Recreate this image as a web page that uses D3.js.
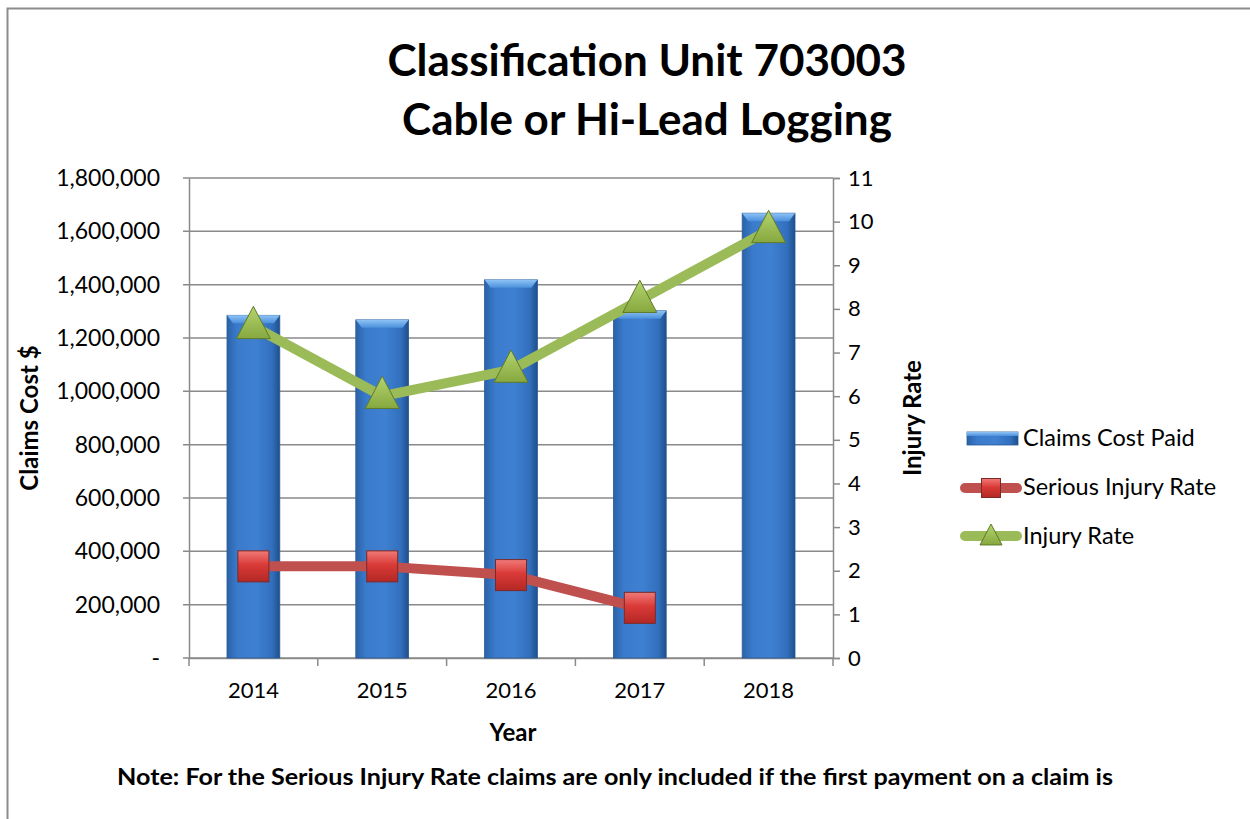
<!DOCTYPE html>
<html>
<head>
<script src="https://d3js.org/d3.v7.min.js"></script>
<style>
  body { margin: 0; background: #fff; font-family: Lato, "Open Sans", sans-serif; }
</style>
</head>
<body>
<div id="chart"></div>
<script>
const years = ["2014", "2015", "2016", "2017", "2018"];
const claimsCost = [1285000, 1268000, 1418000, 1302000, 1668000];
const seriousRate = [2.1, 2.1, 1.9, 1.15];
const injuryRate = [7.6, 6.0, 6.6, 8.2, 9.8];
const leftTicks = [0, 200000, 400000, 600000, 800000, 1000000, 1200000, 1400000, 1600000, 1800000];
const rightTicks = d3.range(0, 12);
const titleLines = ["Classification Unit 703003", "Cable or Hi-Lead Logging"];

const width = 1250, height = 819;
const margin = { top: 178, right: 417, bottom: 161, left: 189 };
const x0 = margin.left, x1 = width - margin.right;
const y0 = height - margin.bottom, y1 = margin.top;

const svg = d3.select("#chart").append("svg")
    .attr("width", width)
    .attr("height", height);

const defs = svg.append("defs");
const barGrad = defs.append("linearGradient").attr("id", "barGrad")
    .attr("x1", "0").attr("x2", "1").attr("y1", "0").attr("y2", "0");
barGrad.append("stop").attr("offset", "0%").attr("stop-color", "#2b62a8");
barGrad.append("stop").attr("offset", "20%").attr("stop-color", "#3a7bcc");
barGrad.append("stop").attr("offset", "55%").attr("stop-color", "#3f80d2");
barGrad.append("stop").attr("offset", "85%").attr("stop-color", "#3270bd");
barGrad.append("stop").attr("offset", "100%").attr("stop-color", "#1f4f8c");
const capGrad = defs.append("linearGradient").attr("id", "capGrad")
    .attr("x1", "0").attr("x2", "0").attr("y1", "0").attr("y2", "1");
capGrad.append("stop").attr("offset", "0%").attr("stop-color", "#8ec3f5");
capGrad.append("stop").attr("offset", "100%").attr("stop-color", "#4b8fdc");
const sqGrad = defs.append("linearGradient").attr("id", "sqGrad")
    .attr("x1", "0").attr("x2", "0").attr("y1", "0").attr("y2", "1");
sqGrad.append("stop").attr("offset", "0%").attr("stop-color", "#f07a78");
sqGrad.append("stop").attr("offset", "45%").attr("stop-color", "#d93a37");
sqGrad.append("stop").attr("offset", "100%").attr("stop-color", "#b32825");
const triGrad = defs.append("linearGradient").attr("id", "triGrad")
    .attr("x1", "0").attr("x2", "0").attr("y1", "0").attr("y2", "1");
triGrad.append("stop").attr("offset", "0%").attr("stop-color", "#b5d46e");
triGrad.append("stop").attr("offset", "100%").attr("stop-color", "#86a83f");

// outer chart frame
svg.append("rect")
    .attr("x", 7.5).attr("y", 8.5)
    .attr("width", width + 20).attr("height", height + 20)
    .attr("fill", "none").attr("stroke", "#8c8c8c").attr("stroke-width", 2);

var xScale = d3.scaleBand().domain(years).range([x0, x1]).paddingInner(0.59).paddingOuter(0.295);
var xBand = d3.scaleBand().domain(years).range([x0, x1]);
var yLeft = d3.scaleLinear().domain([0, 1800000]).range([y0, y1]);
var yRight = d3.scaleLinear().domain([0, 11]).range([y0, y1]);

// gridlines
svg.append("g")
    .selectAll("line")
    .data(leftTicks)
    .enter().append("line")
    .attr("x1", x0 - 6).attr("x2", x1)
    .attr("y1", d => yLeft(d)).attr("y2", d => yLeft(d))
    .attr("stroke", "#8a8a8a").attr("stroke-width", 1.5);

// left axis
const leftAxis = svg.append("g")
    .attr("transform", "translate(" + x0 + ",0)")
    .call(d3.axisLeft(yLeft).tickValues(leftTicks).tickSize(0).tickPadding(29)
        .tickFormat(d => d === 0 ? "-" : d3.format(",")(d)));
leftAxis.select(".domain").attr("stroke", "#8a8a8a").attr("stroke-width", 1.5);
leftAxis.selectAll("text").style("font-size", "23px").style("font-family", "Lato, sans-serif").attr("fill", "#000");

// right axis
const rightAxis = svg.append("g")
    .attr("transform", "translate(" + x1 + ",0)")
    .call(d3.axisRight(yRight).tickValues(rightTicks).tickSize(7).tickPadding(8));
rightAxis.select(".domain").attr("stroke", "#8a8a8a").attr("stroke-width", 1.5);
rightAxis.selectAll("line").attr("stroke", "#8a8a8a").attr("stroke-width", 1.5);
rightAxis.selectAll("text").style("font-size", "22px").style("font-family", "Lato, sans-serif").attr("fill", "#000");

// bottom axis
const bottomAxis = svg.append("g")
    .attr("transform", "translate(0," + y0 + ")")
    .call(d3.axisBottom(xBand).tickSize(0).tickPadding(24));
bottomAxis.select(".domain").attr("stroke", "#8a8a8a").attr("stroke-width", 1.5);
bottomAxis.selectAll("text").style("font-size", "22px").style("font-family", "Lato, sans-serif").attr("fill", "#000");
svg.append("g").selectAll("line")
    .data(years.concat(["end"]))
    .enter().append("line")
    .attr("x1", (d, i) => x0 + i * xBand.step()).attr("x2", (d, i) => x0 + i * xBand.step())
    .attr("y1", y0).attr("y2", y0 + 8)
    .attr("stroke", "#8a8a8a").attr("stroke-width", 1.5);

// bars
const bars = svg.append("g").selectAll("g")
    .data(years.map((y, i) => ({ key: y, value: claimsCost[i] })))
    .enter().append("g");
bars.append("rect")
    .attr("x", d => xScale(d.key))
    .attr("y", d => yLeft(d.value))
    .attr("width", xScale.bandwidth())
    .attr("height", d => y0 - yLeft(d.value))
    .attr("fill", "url(#barGrad)")
    .attr("stroke", "#2a5a96").attr("stroke-width", 0.8);
bars.append("path")
    .attr("d", d => {
        const bx = xScale(d.key), bw = xScale.bandwidth(), by = yLeft(d.value);
        return "M" + bx + "," + by + "H" + (bx + bw) + "L" + (bx + bw - 6) + "," + (by + 8) +
            "H" + (bx + 6) + "Z";
    })
    .attr("fill", "url(#capGrad)");

// lines
const cx = d => xBand(d) + xBand.bandwidth() / 2;
const seriousData = seriousRate.map((v, i) => ({ key: years[i], value: v }));
const injuryData = injuryRate.map((v, i) => ({ key: years[i], value: v }));
const line = d3.line().x(d => cx(d.key)).y(d => yRight(d.value));

svg.append("path").datum(seriousData)
    .attr("d", line).attr("fill", "none")
    .attr("stroke", "#c0504d").attr("stroke-width", 10).attr("stroke-linejoin", "round");
svg.append("path").datum(injuryData)
    .attr("d", line).attr("fill", "none")
    .attr("stroke", "#9bbb59").attr("stroke-width", 10).attr("stroke-linejoin", "round");

function square(g, x, y, s) {
    g.append("rect")
        .attr("x", x - s / 2).attr("y", y - s / 2).attr("width", s).attr("height", s)
        .attr("fill", "url(#sqGrad)").attr("stroke", "#7a2a28").attr("stroke-width", 1);
}
function triangle(g, x, y, s) {
    const h = s * 0.95;
    g.append("path")
        .attr("d", "M" + x + "," + (y - h * 0.62) + "L" + (x + s / 2) + "," + (y + h * 0.38) +
            "L" + (x - s / 2) + "," + (y + h * 0.38) + "Z")
        .attr("fill", "url(#triGrad)").attr("stroke", "#5f7a2a").attr("stroke-width", 1);
}

const markers = svg.append("g");
seriousData.forEach(d => square(markers, cx(d.key), yRight(d.value), 31));
injuryData.forEach(d => triangle(markers, cx(d.key), yRight(d.value), 34));

// titles
svg.append("text")
    .attr("x", 647).attr("y", 76)
    .attr("text-anchor", "middle")
    .style("font-size", "44px").style("font-weight", "bold")
    .text(titleLines[0]);
svg.append("text")
    .attr("x", 647).attr("y", 135)
    .attr("text-anchor", "middle")
    .style("font-size", "44px").style("font-weight", "bold")
    .text(titleLines[1]);

// axis titles
svg.append("text")
    .attr("transform", "translate(38,418) rotate(-90)")
    .attr("text-anchor", "middle")
    .style("font-size", "24px").style("font-weight", "bold")
    .text("Claims Cost $");
svg.append("text")
    .attr("transform", "translate(921,418) rotate(-90)")
    .attr("text-anchor", "middle")
    .style("font-size", "24px").style("font-weight", "bold")
    .text("Injury Rate");
svg.append("text")
    .attr("x", 513).attr("y", 741)
    .attr("text-anchor", "middle")
    .style("font-size", "24px").style("font-weight", "bold")
    .text("Year");

// legend
const legend = svg.append("g");
legend.append("rect").attr("x", 967).attr("y", 432).attr("width", 51).attr("height", 13)
    .attr("fill", "url(#barGrad)").attr("stroke", "#2a5a96").attr("stroke-width", 0.8);
legend.append("rect").attr("x", 967).attr("y", 432).attr("width", 51).attr("height", 4)
    .attr("fill", "url(#capGrad)");
legend.append("line").attr("x1", 965).attr("x2", 1017).attr("y1", 488).attr("y2", 488)
    .attr("stroke", "#c0504d").attr("stroke-width", 10).attr("stroke-linecap", "round");
square(legend, 991, 488, 19);
legend.append("line").attr("x1", 965).attr("x2", 1017).attr("y1", 536).attr("y2", 536)
    .attr("stroke", "#9bbb59").attr("stroke-width", 10).attr("stroke-linecap", "round");
triangle(legend, 991, 537, 22);
const legendLabels = ["Claims Cost Paid", "Serious Injury Rate", "Injury Rate"];
legend.selectAll("text.lbl").data(legendLabels).enter().append("text")
    .attr("class", "lbl")
    .attr("x", 1023).attr("y", (d, i) => 446 + i * 49)
    .style("font-size", "23.5px")
    .text(d => d);

// note
svg.append("text")
    .attr("x", 117).attr("y", 785)
    .attr("textLength", 996).attr("lengthAdjust", "spacingAndGlyphs")
    .style("font-size", "22px").style("font-weight", "bold")
    .text("Note:  For the Serious Injury Rate claims are only included if the first payment on a claim is");
</script>
</body>
</html>
